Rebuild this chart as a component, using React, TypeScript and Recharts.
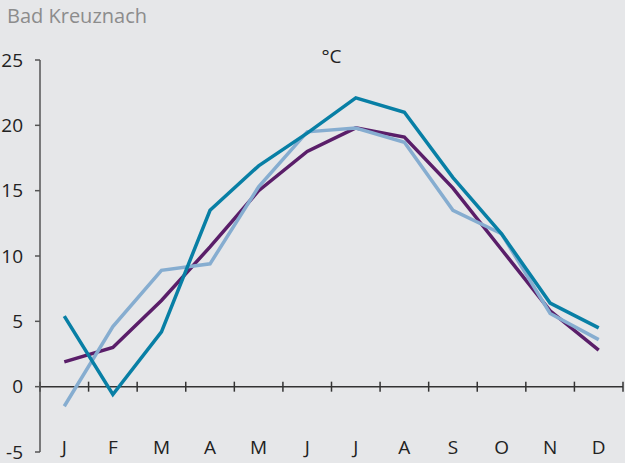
import React from "react";
import { LineChart, Line, XAxis, YAxis, ReferenceLine } from "recharts";

const months = ["J", "F", "M", "A", "M", "J", "J", "A", "S", "O", "N", "D"];
const tealSeries = [5.4, -0.6, 4.2, 13.5, 16.9, 19.4, 22.1, 21.0, 16.0, 11.7, 6.4, 4.5];
const purpleSeries = [1.9, 3.0, 6.6, 10.7, 15.0, 18.0, 19.8, 19.1, 15.2, 10.5, 5.8, 2.8];
const lightSeries = [-1.5, 4.6, 8.9, 9.4, 15.3, 19.5, 19.8, 18.7, 13.5, 11.7, 5.6, 3.6];
const yTicks = [-5, 0, 5, 10, 15, 20, 25];

// each month sits in the middle of its slot on a 0..12 axis
const data = months.map((m, i) => ({
  x: i + 0.5,
  m,
  teal: tealSeries[i],
  purple: purpleSeries[i],
  light: lightSeries[i],
}));
const xTicks = data.map((d) => d.x);

const font = "'Open Sans', sans-serif";
const bg = "#e6e7e9";
const ink = "#222";

function MonthTick(props: any) {
  const { x, y, payload } = props;
  const idx = Math.floor(payload.value);
  return (
    <text x={x} y={y} dy={-6} textAnchor="middle" fill={ink} fontSize={19} fontFamily={font}>
      {months[idx]}
    </text>
  );
}

// zero line with tick marks at every month boundary
function ZeroAxis(props: any) {
  const { x1, y1, x2 } = props;
  const step = (x2 - x1) / months.length;
  return (
    <g>
      <line x1={x1} y1={y1} x2={x2} y2={y1} stroke="#333" strokeWidth={1.5} />
      {Array.from({ length: months.length + 1 }, (_, i) => (
        <line key={i} x1={x1 + i * step} x2={x1 + i * step} y1={y1 - 5} y2={y1 + 5} stroke="#333" strokeWidth={1.5} />
      ))}
    </g>
  );
}

export default function App() {
  return (
    <div style={{ position: "absolute", left: 0, top: 0, width: 625, height: 463, background: bg, fontFamily: font }}>
      <div style={{ position: "absolute", left: 7, top: 2, fontSize: 20, color: "#8c8c8c" }}>Bad Kreuznach</div>
      <div style={{ position: "absolute", left: 0, width: 663, top: 43, textAlign: "center", fontSize: 19, color: ink }}>°C</div>
      <LineChart width={625} height={463} data={data} margin={{ top: 60, right: 2, bottom: 10, left: 0 }}>
        <XAxis
          dataKey="x"
          type="number"
          domain={[0, months.length]}
          ticks={xTicks}
          axisLine={false}
          tickLine={false}
          height={1}
          tick={<MonthTick />}
          interval={0}
        />
        <YAxis
          domain={[-5, 25]}
          ticks={yTicks}
          width={40}
          tickSize={5}
          tickMargin={12}
          axisLine={{ stroke: "#555", strokeWidth: 1.5 }}
          tickLine={{ stroke: "#555", strokeWidth: 1.5 }}
          tick={{ fill: ink, fontSize: 19, fontFamily: font }}
        />
        <ReferenceLine y={0} shape={<ZeroAxis />} />
        <Line dataKey="purple" stroke="#5a1e69" strokeWidth={3.5} dot={false} isAnimationActive={false} />
        <Line dataKey="light" stroke="#86add0" strokeWidth={3.5} dot={false} isAnimationActive={false} />
        <Line dataKey="teal" stroke="#087fa5" strokeWidth={3.5} dot={false} isAnimationActive={false} />
      </LineChart>
    </div>
  );
}
